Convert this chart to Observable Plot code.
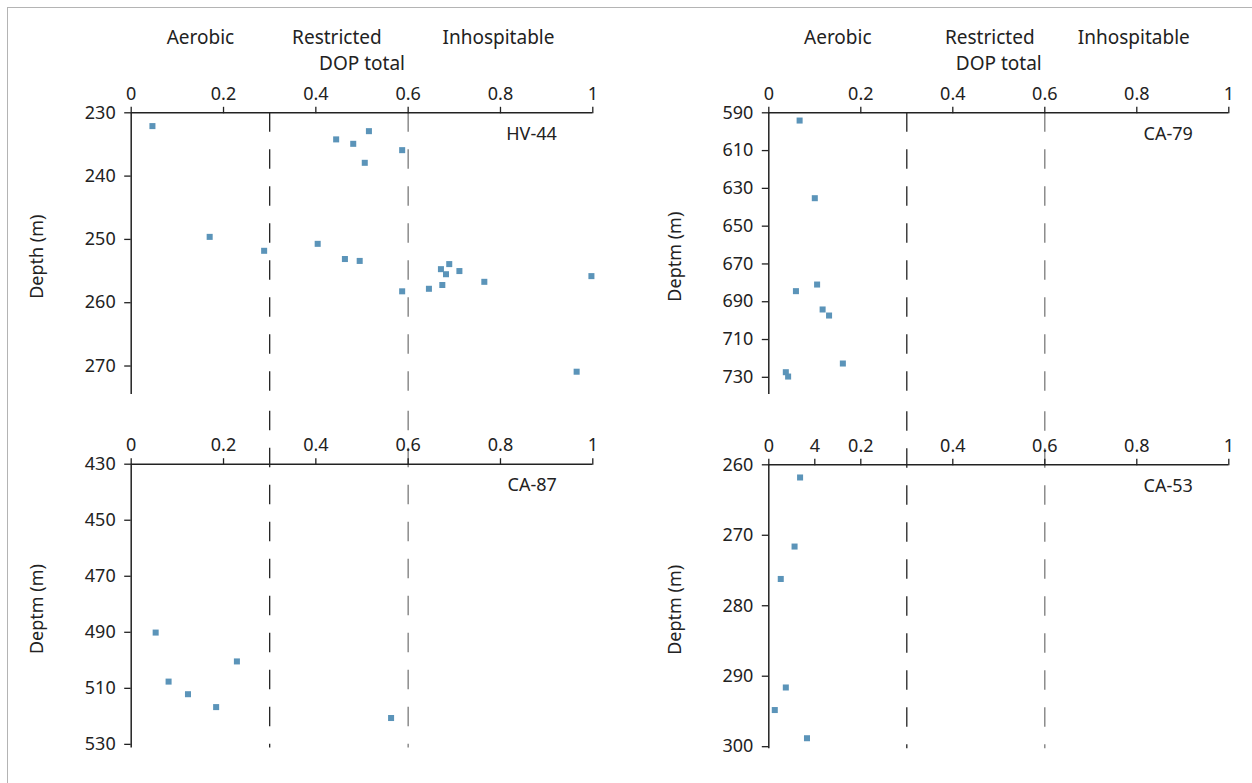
<!DOCTYPE html>
<html>
<head>
<meta charset="utf-8">
<script src="https://cdn.jsdelivr.net/npm/d3@7"></script>
<script src="https://cdn.jsdelivr.net/npm/@observablehq/plot@0.6"></script>
<style>
  html, body { margin: 0; padding: 0; background: #fff; }
  #wrap { position: relative; width: 1252px; height: 783px; overflow: hidden; font-family: "Noto Sans", sans-serif; }
  #wrap svg { position: absolute; background: transparent; max-width: none; }
  #border { position: absolute; left: 7px; top: 7px; right: -5px; bottom: -5px; border-top: 1.5px solid #b4b4b4; border-left: 1.5px solid #b4b4b4; pointer-events: none; }
</style>
</head>
<body>
<div id="wrap"><div id="border"></div></div>
<script>
// ---- data ----
const xTitle = "DOP total";
const zoneNames = ["Aerobic", "Restricted", "Inhospitable"];
const zoneFrom = [0, 0.3, 0.6];
const zoneTo = [0.3, 0.6, 1];
const thresholds = [0.3, 0.6];

const xTicks = [0, 0.2, 0.4, 0.6, 0.8, 1];
const xTickLabels = ["0", "0.2", "0.4", "0.6", "0.8", "1"];
const xTicksCA53 = [0, 0.1, 0.2, 0.4, 0.6, 0.8, 1];
const xTickLabelsCA53 = ["0", "4", "0.2", "0.4", "0.6", "0.8", "1"];

// HV-44
const hv44Dop = [0.046, 0.515, 0.444, 0.481, 0.587, 0.506, 0.170, 0.288, 0.404, 0.463, 0.495, 0.587, 0.645, 0.671, 0.689, 0.682, 0.711, 0.674, 0.765, 0.997, 0.965];
const hv44Depth = [232.1, 232.9, 234.2, 234.9, 235.9, 237.9, 249.6, 251.8, 250.7, 253.1, 253.4, 258.2, 257.8, 254.7, 253.9, 255.5, 255.0, 257.2, 256.7, 255.8, 270.9];
const hv44YTicks = [230, 240, 250, 260, 270];
const hv44YDomain = [230, 274.5];

// CA-79
const ca79Dop = [0.067, 0.100, 0.105, 0.059, 0.117, 0.131, 0.161, 0.037, 0.042];
const ca79Depth = [594.1, 635.2, 680.9, 684.4, 694.1, 697.3, 722.7, 727.3, 729.6];
const ca79YTicks = [590, 610, 630, 650, 670, 690, 710, 730];
const ca79YDomain = [590, 739.1];

// CA-87
const ca87Dop = [0.053, 0.229, 0.081, 0.123, 0.184, 0.563];
const ca87Depth = [490.1, 500.4, 507.6, 512.1, 516.7, 520.6];
const ca87YTicks = [430, 450, 470, 490, 510, 530];
const ca87YDomain = [430, 531.3];

// CA-53
const ca53Dop = [0.068, 0.056, 0.026, 0.037, 0.013, 0.083];
const ca53Depth = [261.8, 271.6, 276.2, 291.6, 294.8, 298.8];
const ca53YTicks = [260, 270, 280, 290, 300];
const ca53YDomain = [260, 300.3];

// ---- styles ----
const dotColor = "#5b94b9";
const ink = "#222";
const thresholdColors = ["#222", "#7a7a7a"];
const fontFamily = "'Noto Sans', sans-serif";

const zones = zoneNames.map((name, i) => ({name, mid: (zoneFrom[i] + zoneTo[i]) / 2}));

function panel({name, dop, depth, yTicks, yDomain, yLabel, ticks, tickLabels, header, headerDx, left, top, width, height, margins, dashInset}) {
  const pts = dop.map((v, i) => ({dop: v, depth: depth[i]}));
  const fmt = d => tickLabels[ticks.indexOf(d)];
  const marks = [
    ...thresholds.map((t, i) => Plot.ruleX([t], {stroke: thresholdColors[i], strokeWidth: 1.3, strokeDasharray: "19.5,17.5", insetTop: dashInset})),
    Plot.ruleY([yDomain[0]], {stroke: ink, strokeWidth: 1.5}),
    Plot.ruleX([0], {stroke: ink, strokeWidth: 1.5}),
    Plot.axisX({anchor: "top", ticks, tickFormat: fmt, tickSize: 6.5, tickPadding: 6.5, stroke: ink, strokeWidth: 1.3, fill: ink, label: null, fontSize: 18}),
    Plot.axisY({anchor: "left", ticks: yTicks, tickSize: 6.5, tickPadding: 9, stroke: ink, strokeWidth: 1.3, fill: ink, label: null, fontSize: 18}),
    Plot.text([yLabel], {text: d => d, frameAnchor: "left", rotate: -90, dx: -94, dy: 3, fontSize: 18, fill: ink, textAnchor: "middle", lineAnchor: "middle"}),
    Plot.text([name], {text: d => d, frameAnchor: "top-right", textAnchor: "end", lineAnchor: "top", dx: -36, dy: 14.5, fontSize: 18, fill: ink}),
    Plot.dot(pts, {x: "dop", y: "depth", symbol: "square", r: 3.4, fill: dotColor, stroke: null})
  ];
  if (header) {
    zones.forEach((z, i) => {
      marks.push(Plot.text([z], {x: "mid", text: "name", frameAnchor: "top", lineAnchor: "middle", dy: -75, dx: headerDx[i], fontSize: 19, fill: ink}));
    });
    marks.push(Plot.text([xTitle], {text: d => d, frameAnchor: "top", lineAnchor: "middle", dy: -48.5, fontSize: 19, fill: ink}));
  }
  const svg = Plot.plot({
    width, height,
    marginLeft: margins[0], marginRight: margins[1], marginTop: margins[2], marginBottom: margins[3],
    x: {domain: [0, 1]},
    y: {domain: yDomain, reverse: true},
    style: {fontFamily, fontSize: "18px", color: ink, background: "transparent", overflow: "visible"},
    marks
  });
  svg.style.left = left + "px";
  svg.style.top = top + "px";
  const wrap = document.getElementById("wrap");
  wrap.insertBefore(svg, document.getElementById("border"));
}

panel({name: "HV-44", dop: hv44Dop, depth: hv44Depth, yTicks: hv44YTicks, yDomain: hv44YDomain, yLabel: "Depth (m)",
  ticks: xTicks, tickLabels: xTickLabels, header: true, headerDx: [0, -2, -2],
  left: 0, top: 0, width: 626, height: 400, margins: [130.7, 33.7, 112.3, 6], dashInset: 0});
panel({name: "CA-79", dop: ca79Dop, depth: ca79Depth, yTicks: ca79YTicks, yDomain: ca79YDomain, yLabel: "Deptm (m)",
  ticks: xTicks, tickLabels: xTickLabels, header: true, headerDx: [0, 14, -3],
  left: 626, top: 0, width: 626, height: 400, margins: [142.3, 23.7, 112.3, 6], dashInset: 0});
panel({name: "CA-87", dop: ca87Dop, depth: ca87Depth, yTicks: ca87YTicks, yDomain: ca87YDomain, yLabel: "Deptm (m)",
  ticks: xTicks, tickLabels: xTickLabels, header: false,
  left: 0, top: 400, width: 626, height: 383, margins: [130.7, 33.7, 63.7, 35.5], dashInset: -53});
panel({name: "CA-53", dop: ca53Dop, depth: ca53Depth, yTicks: ca53YTicks, yDomain: ca53YDomain, yLabel: "Deptm (m)",
  ticks: xTicksCA53, tickLabels: xTickLabelsCA53, header: false,
  left: 626, top: 400, width: 626, height: 383, margins: [142.3, 23.7, 64.3, 34.7], dashInset: -53});
</script>
</body>
</html>
